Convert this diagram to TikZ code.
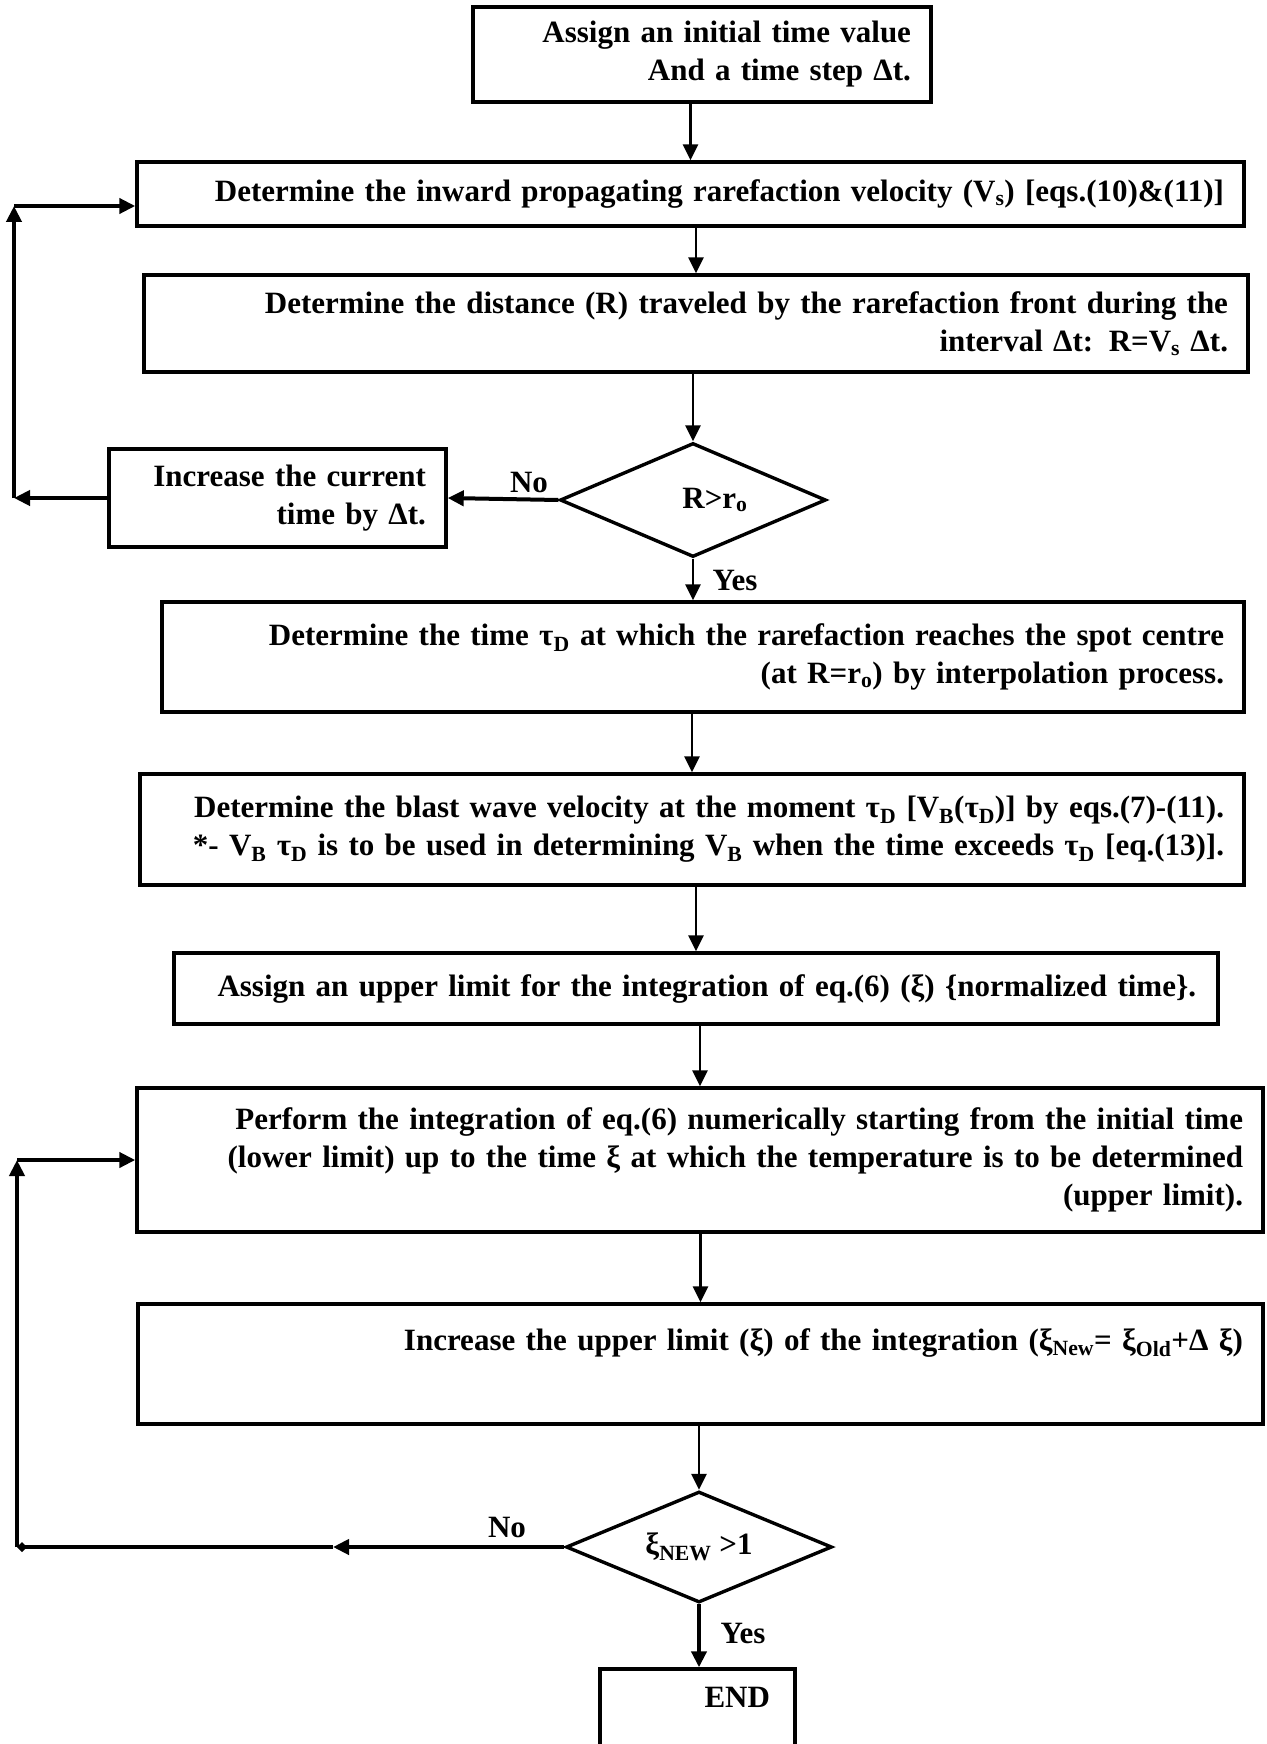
\documentclass[tikz,border=0pt]{standalone}
\usepackage{fontspec}
\setmainfont{Liberation Serif}
\usetikzlibrary{shapes.geometric,arrows.meta}
\newcommand{\tsub}[1]{\textsubscript{#1}}

\tikzset{
	stepbox/.style={draw, line width=3.4pt, rectangle, align=right, inner sep=0pt,
		font=\bfseries\fontsize{31}{38}\selectfont},
	flowbox/.style 2 args={stepbox, minimum width=#1pt, minimum height=#2pt},
	decide/.style={draw, diamond, line width=3.4pt, inner sep=0pt, aspect=2.3,
		minimum width=266pt, font=\bfseries\fontsize{31}{38}\selectfont},
	lbl/.style={font=\bfseries\fontsize{31}{38}\selectfont},
	flowline/.style={->, line width=2.6pt},
	backline/.style={->, line width=4pt}
}

\begin{document}
\begin{tikzpicture}[x=1pt, y=-1pt, >={Triangle[length=16pt,width=15pt]}]
	\useasboundingbox (0,0) rectangle (1266,1744);
	% main column
	\node[flowbox={458}{95}, text width=418pt] (start) at (702,54.5)
		{Assign an initial time value\\ And a time step Δt.};
	\node[flowbox={1107}{64}, text width=1067pt] (vel) at (690.5,194)
		{Determine the inward propagating rarefaction velocity (V\tsub{s}) [eqs.(10)\&(11)]};
	\node[flowbox={1104}{97}, text width=1064pt] (dist) at (696,323.5)
		{Determine the distance (R) traveled by the rarefaction front during the\\ interval Δt: R=V\tsub{s} Δt.};
	\node[decide, minimum height=114pt] (dec1) at (693,500) {\hspace*{44pt}R>r\tsub{o}};
	\node[flowbox={337}{98}, text width=297pt] (inc) at (277.5,498)
		{Increase the current\\ time by Δt.};
	\node[flowbox={1082}{110}, text width=1042pt] (tauD) at (703,657)
		{Determine the time τ\tsub{D} at which the rarefaction reaches the spot centre\\ (at R=r\tsub{o}) by interpolation process.};
	\node[flowbox={1104}{111}, text width=1064pt] (blast) at (692,829.5)
		{Determine the blast wave velocity at the moment τ\tsub{D} [V\tsub{B}(τ\tsub{D})] by eqs.(7)-(11).\\ {*}- V\tsub{B} τ\tsub{D} is to be used in determining V\tsub{B} when the time exceeds τ\tsub{D} [eq.(13)].};
	\node[flowbox={1044}{71}, text width=1000pt, xshift=-4pt] (upper) at (700,988.5)
		{Assign an upper limit for the integration of eq.(6) (ξ) \{normalized time\}.};
	\node[flowbox={1126}{144}, text width=1086pt] (integ) at (700,1160)
		{Perform the integration of eq.(6) numerically starting from the initial time\\ (lower limit) up to the time ξ at which the temperature is to be determined\\ (upper limit).};
	\node[flowbox={1125}{120}, text width=1085pt] (incxi) at (700.5,1364)
		{Increase the upper limit (ξ) of the integration (ξ\tsub{New}= ξ\tsub{Old}+Δ ξ)\\ \strut};
	\node[decide, minimum height=111pt] (dec2) at (699,1547) {ξ\tsub{NEW} >1};
	\node[flowbox={195}{107}, text width=145pt] (finish) at (697.5,1722.5) {END\\ \strut};

	% labels
	\node[lbl] (no1) at (529,482) {No};
	\node[lbl] (yes1) at (735,580) {Yes};
	\node[lbl] (no2) at (507,1527) {No};
	\node[lbl] (yes2) at (743,1633) {Yes};

	% arrows down the column
	\draw[flowline] (vel.north |- start.south) -- (vel.north);
	\draw[flowline] (dist.north |- vel.south) -- (dist.north);
	\draw[flowline] (dec1.north |- dist.south) -- (dec1.north);
	\draw[flowline] (dec1.south) -- (dec1.south |- tauD.north);
	\draw[flowline] (blast.north |- tauD.south) -- (blast.north);
	\draw[flowline] (upper.north |- blast.south) -- (upper.north);
	\draw[flowline] (integ.north |- upper.south) -- (integ.north);
	\draw[flowline] (incxi.north |- integ.south) -- (incxi.north);
	\draw[flowline] (dec2.north |- incxi.south) -- (dec2.north);
	\draw[flowline, line width=4.5pt] (dec2.south) -- (dec2.south |- finish.north);
	\draw[flowline, line width=4pt] (dec1.west) -- (inc.east);

	% first loop
	\coordinate (l1a) at (14,498);
	\coordinate (l1b) at (14,206);
	\draw[backline] (inc.west) -- (l1a);
	\draw[backline] (l1a) -- (l1b);
	\draw[backline] (l1b) -- (l1b -| vel.west);

	% second loop
	\coordinate (l2m) at (333,1547);
	\coordinate (l2a) at (17,1547);
	\coordinate (l2b) at (17,1160);
	\draw[backline] (dec2.west) -- (l2m);
	\draw[backline, -{Diamond[length=10pt,width=10pt]}] (l2m) -- (l2a);
	\draw[backline] (l2a) -- (l2b);
	\draw[backline] (l2b) -- (integ.west);
\end{tikzpicture}
\end{document}
